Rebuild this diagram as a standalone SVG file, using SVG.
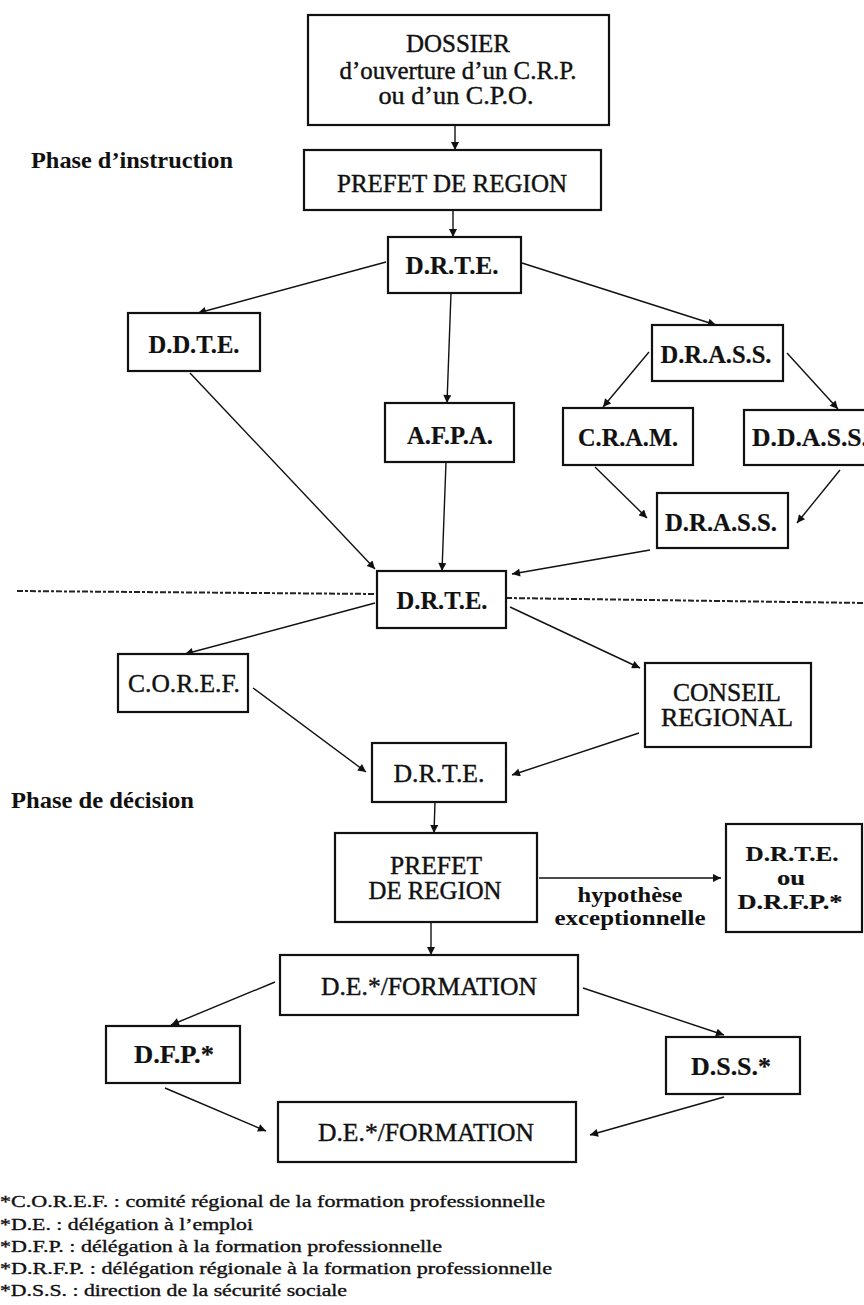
<svg xmlns="http://www.w3.org/2000/svg" width="864" height="1305" viewBox="0 0 864 1305">
<style>
  .box { fill: #fff; stroke: #111; stroke-width: 2.2; }
  .t { font-family: "Liberation Serif", "Times New Roman", serif; font-size: 25px; fill: #111; stroke: #111; stroke-width: 0.4; text-anchor: middle; }
  .b { font-weight: bold; stroke-width: 0.2; }
  .s { font-size: 21px; }
  .ph { font-family: "Liberation Serif", "Times New Roman", serif; font-size: 24px; font-weight: bold; fill: #111; }
  .lbl { font-family: "Liberation Serif", "Times New Roman", serif; font-size: 21px; font-weight: bold; fill: #111; text-anchor: middle; }
  .fn { font-family: "Liberation Serif", "Times New Roman", serif; font-size: 17px; fill: #111; stroke: #111; stroke-width: 0.35; }
  .c { fill: none; stroke: #111; stroke-width: 1.4; marker-end: url(#ah); }
  .dash { fill: none; stroke: #222; stroke-width: 2; stroke-dasharray: 6 2 3 2; }
</style>
<defs>
  <marker id="ah" viewBox="0 0 10 10" refX="10" refY="5" markerWidth="9" markerHeight="8" markerUnits="userSpaceOnUse" orient="auto">
    <path d="M0,0 L10,5 L0,10 z" fill="#111"/>
  </marker>
</defs>
<rect width="864" height="1305" fill="#fff"/>

<g id="connectors">
  <line class="c" x1="455" y1="125" x2="455" y2="150"/>
  <line class="c" x1="453" y1="210" x2="453" y2="237"/>
  <line class="c" x1="386" y1="262" x2="198" y2="313"/>
  <line class="c" x1="522" y1="263" x2="716" y2="325"/>
  <line class="c" x1="451" y1="293" x2="447" y2="403"/>
  <line class="c" x1="649" y1="352" x2="603" y2="407"/>
  <line class="c" x1="787" y1="353" x2="838" y2="409"/>
  <line class="c" x1="595" y1="467" x2="647" y2="518"/>
  <line class="c" x1="840" y1="470" x2="797" y2="523"/>
  <line class="c" x1="190" y1="373" x2="375" y2="569"/>
  <line class="c" x1="446" y1="462" x2="442" y2="571"/>
  <line class="c" x1="650" y1="550" x2="512" y2="574"/>
  <line class="c" x1="375" y1="603" x2="185" y2="654"/>
  <line class="c" x1="510" y1="607" x2="640" y2="668"/>
  <line class="c" x1="253" y1="688" x2="366" y2="772"/>
  <line class="c" x1="639" y1="733" x2="512" y2="775"/>
  <line class="c" x1="435" y1="802" x2="434" y2="833"/>
  <line class="c" x1="539" y1="878" x2="721" y2="878"/>
  <line class="c" x1="431" y1="922" x2="431" y2="955"/>
  <line class="c" x1="275" y1="982" x2="171" y2="1025"/>
  <line class="c" x1="583" y1="988" x2="724" y2="1035"/>
  <line class="c" x1="165" y1="1088" x2="266" y2="1131"/>
  <line class="c" x1="724" y1="1097" x2="590" y2="1135"/>
  <line class="dash" x1="17" y1="591" x2="377" y2="594"/>
  <line class="dash" x1="506" y1="598" x2="864" y2="603"/>
</g>

<g id="dossier">
  <rect class="box" x="308" y="15" width="301" height="110"/>
  <text class="t" x="458" y="52" textLength="104" lengthAdjust="spacingAndGlyphs">DOSSIER</text>
  <text class="t" x="458" y="79" textLength="237" lengthAdjust="spacingAndGlyphs">d’ouverture d’un C.R.P.</text>
  <text class="t" x="456" y="104" textLength="155" lengthAdjust="spacingAndGlyphs">ou d’un C.P.O.</text>
</g>

<g id="phase-instruction">
  <text class="ph" x="31" y="168" textLength="202" lengthAdjust="spacingAndGlyphs">Phase d’instruction</text>
</g>

<g id="prefet1">
  <rect class="box" x="304" y="150" width="297" height="60"/>
  <text class="t" x="452" y="192" textLength="230" lengthAdjust="spacingAndGlyphs">PREFET DE REGION</text>
</g>

<g id="drte1">
  <rect class="box" x="388" y="237" width="133" height="56"/>
  <text class="t b" x="452" y="274" textLength="93" lengthAdjust="spacingAndGlyphs">D.R.T.E.</text>
</g>

<g id="ddte">
  <rect class="box" x="128" y="313" width="132" height="58"/>
  <text class="t b" x="194" y="353" textLength="91" lengthAdjust="spacingAndGlyphs">D.D.T.E.</text>
</g>

<g id="drass1">
  <rect class="box" x="652" y="325" width="131" height="56"/>
  <text class="t b" x="716" y="363" textLength="111" lengthAdjust="spacingAndGlyphs">D.R.A.S.S.</text>
</g>

<g id="afpa">
  <rect class="box" x="385" y="403" width="129" height="59"/>
  <text class="t b" x="450" y="444" textLength="86" lengthAdjust="spacingAndGlyphs">A.F.P.A.</text>
</g>

<g id="cram">
  <rect class="box" x="563" y="408" width="130" height="57"/>
  <text class="t b" x="628" y="446" textLength="100" lengthAdjust="spacingAndGlyphs">C.R.A.M.</text>
</g>

<g id="ddass">
  <rect class="box" x="744" y="410" width="140" height="55"/>
  <text class="t b" x="752" y="446" style="text-anchor:start" textLength="116" lengthAdjust="spacingAndGlyphs">D.D.A.S.S.</text>
</g>

<g id="drass2">
  <rect class="box" x="657" y="493" width="131" height="55"/>
  <text class="t b" x="721" y="531" textLength="112" lengthAdjust="spacingAndGlyphs">D.R.A.S.S.</text>
</g>

<g id="drte2">
  <rect class="box" x="377" y="571" width="129" height="57"/>
  <text class="t b" x="442" y="609" textLength="91" lengthAdjust="spacingAndGlyphs">D.R.T.E.</text>
</g>

<g id="coref">
  <rect class="box" x="118" y="654" width="130" height="58"/>
  <text class="t" x="184" y="692" textLength="112" lengthAdjust="spacingAndGlyphs">C.O.R.E.F.</text>
</g>

<g id="conseil">
  <rect class="box" x="645" y="663" width="166" height="84"/>
  <text class="t" x="727" y="701" textLength="108" lengthAdjust="spacingAndGlyphs">CONSEIL</text>
  <text class="t" x="727" y="726" textLength="132" lengthAdjust="spacingAndGlyphs">REGIONAL</text>
</g>

<g id="drte3">
  <rect class="box" x="372" y="743" width="134" height="59"/>
  <text class="t" x="439" y="782" textLength="91" lengthAdjust="spacingAndGlyphs">D.R.T.E.</text>
</g>

<g id="phase-decision">
  <text class="ph" x="11" y="808" textLength="183" lengthAdjust="spacingAndGlyphs">Phase de décision</text>
</g>

<g id="prefet2">
  <rect class="box" x="335" y="833" width="202" height="89"/>
  <text class="t" x="436" y="874" textLength="92" lengthAdjust="spacingAndGlyphs">PREFET</text>
  <text class="t" x="435" y="899" textLength="133" lengthAdjust="spacingAndGlyphs">DE REGION</text>
</g>

<g id="hypothese-label">
  <text class="lbl" x="630" y="902" textLength="105" lengthAdjust="spacingAndGlyphs">hypothèse</text>
  <text class="lbl" x="630" y="925" textLength="151" lengthAdjust="spacingAndGlyphs">exceptionnelle</text>
</g>

<g id="drte-drfp">
  <rect class="box" x="726" y="824" width="136" height="108"/>
  <text class="t b s" x="792" y="861" textLength="93" lengthAdjust="spacingAndGlyphs">D.R.T.E.</text>
  <text class="t b s" x="791" y="885" textLength="28" lengthAdjust="spacingAndGlyphs">ou</text>
  <text class="t b s" x="790" y="909" textLength="105" lengthAdjust="spacingAndGlyphs">D.R.F.P.*</text>
</g>

<g id="de-formation1">
  <rect class="box" x="280" y="955" width="298" height="60"/>
  <text class="t" x="429" y="995" textLength="216" lengthAdjust="spacingAndGlyphs">D.E.*/FORMATION</text>
</g>

<g id="dfp">
  <rect class="box" x="106" y="1026" width="134" height="57"/>
  <text class="t b" x="174" y="1063" textLength="80" lengthAdjust="spacingAndGlyphs">D.F.P.*</text>
</g>

<g id="dss">
  <rect class="box" x="666" y="1037" width="134" height="57"/>
  <text class="t b" x="731" y="1075" textLength="80" lengthAdjust="spacingAndGlyphs">D.S.S.*</text>
</g>

<g id="de-formation2">
  <rect class="box" x="278" y="1102" width="298" height="60"/>
  <text class="t" x="426" y="1141" textLength="216" lengthAdjust="spacingAndGlyphs">D.E.*/FORMATION</text>
</g>

<g id="footnotes">
  <text class="fn" x="0" y="1207" textLength="545" lengthAdjust="spacingAndGlyphs">*C.O.R.E.F. : comité régional de la formation professionnelle</text>
  <text class="fn" x="0" y="1230" textLength="253" lengthAdjust="spacingAndGlyphs">*D.E. : délégation à l’emploi</text>
  <text class="fn" x="0" y="1252" textLength="442" lengthAdjust="spacingAndGlyphs">*D.F.P. : délégation à la formation professionnelle</text>
  <text class="fn" x="0" y="1274" textLength="552" lengthAdjust="spacingAndGlyphs">*D.R.F.P. : délégation régionale à la formation professionnelle</text>
  <text class="fn" x="0" y="1296" textLength="347" lengthAdjust="spacingAndGlyphs">*D.S.S. : direction de la sécurité sociale</text>
</g>
</svg>
